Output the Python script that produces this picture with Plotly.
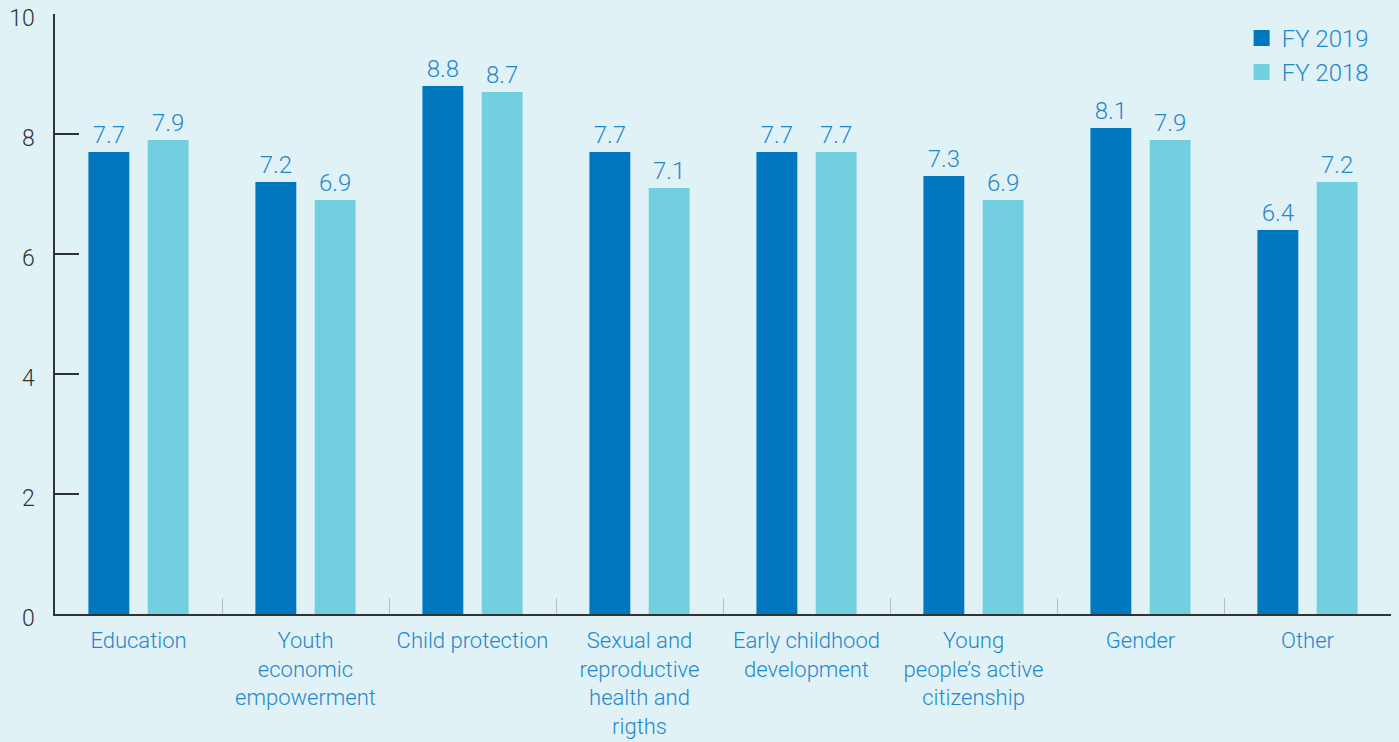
import plotly.graph_objects as go

categories = ["Education", "Youth<br>economic<br>empowerment", "Child protection",
              "Sexual and<br>reproductive<br>health and<br>rigths",
              "Early childhood<br>development", "Young<br>people’s active<br>citizenship",
              "Gender", "Other"]
fy2019 = [7.7, 7.2, 8.8, 7.7, 7.7, 7.3, 8.1, 6.4]
fy2018 = [7.9, 6.9, 8.7, 7.1, 7.7, 6.9, 7.9, 7.2]
series_names = ["FY 2019", "FY 2018"]
y_ticks = [0, 2, 4, 6, 8, 10]

c19 = "#0077BE"
c18 = "#72CFE0"
blue_text = "#1E88CC"
bg = "#E1F2F7"
font_family = "Roboto, Liberation Sans, sans-serif"

fig = go.Figure()
for name, vals, col in [(series_names[0], fy2019, c19), (series_names[1], fy2018, c18)]:
    fig.add_trace(go.Bar(
        x=categories, y=vals, name=name, marker=dict(color=col, line=dict(width=0)),
        text=[f"{v:.1f}" for v in vals], textposition="outside",
        textfont=dict(color=blue_text, size=24, family=font_family, weight=300),
        cliponaxis=False, showlegend=False,
    ))
    fig.add_trace(go.Scatter(
        x=[None], y=[None], mode="markers", name=name,
        marker=dict(symbol="square", size=20, color=col), showlegend=True,
    ))

fig.update_layout(
    width=1399, height=742,
    paper_bgcolor=bg, plot_bgcolor=bg,
    margin=dict(l=55, r=8, t=14, b=128),
    barmode="group", bargap=0.29, bargroupgap=0.31,
    font=dict(family=font_family, weight=300),
    legend=dict(x=0.987, xanchor="right", y=0.997, yanchor="top", bgcolor="rgba(0,0,0,0)",
                font=dict(color=blue_text, size=24, family=font_family, weight=300),
                itemwidth=30, tracegroupgap=0),
)
fig.update_xaxes(
    showline=True, linecolor="#333333", linewidth=1.5, automargin=False,
    ticks="inside", tickson="boundaries", ticklen=16, tickcolor="#BBBBBB", tickwidth=1,
    tickfont=dict(color=blue_text, size=22, family=font_family, weight=300),
    ticklabelstandoff=6,
    showgrid=False, zeroline=False,
)
fig.update_yaxes(
    range=[0, 10], tickvals=y_ticks, showline=True, linecolor="#333333", linewidth=1.5,
    automargin=False,
    ticks="inside", ticklen=24, tickcolor="#333333", tickwidth=1.5,
    tickfont=dict(color="#333333", size=23, family=font_family, weight=300),
    ticklabelstandoff=14, ticklabelshift=4,
    showgrid=False, zeroline=False,
)
fig.write_html("out.html", config={"displayModeBar": False},
               post_script="document.body.style.margin='0';document.body.style.background='#E1F2F7';")
